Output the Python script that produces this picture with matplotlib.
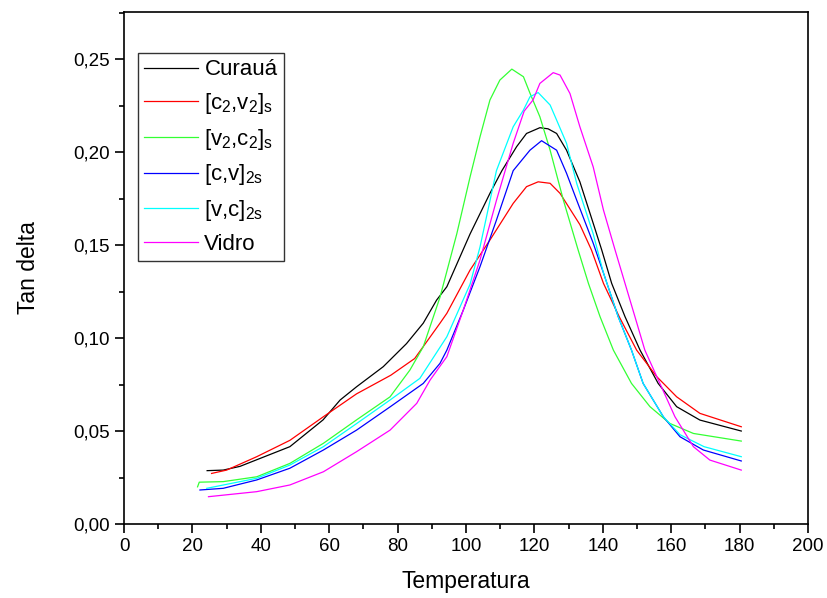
import matplotlib
matplotlib.use("Agg")
import matplotlib.pyplot as plt
from matplotlib.ticker import MultipleLocator, FuncFormatter

plt.rcParams["font.family"] = ["Liberation Sans", "DejaVu Sans"]
plt.rcParams["mathtext.fontset"] = "custom"
plt.rcParams["mathtext.rm"] = "Liberation Sans"
plt.rcParams["mathtext.it"] = "Liberation Sans"

# Tan delta vs temperature
t_curaua = [24.3, 29.0, 33.9, 48.5, 58.2, 63.2, 68.0, 75.8, 82.6, 87.5, 91.4, 94.4,
            101.2, 107.0, 110.5, 114.8, 117.7, 121.6, 124.0, 126.5, 129.4, 133.3,
            137.2, 139.7, 142.6, 146.5, 150.9, 156.2, 161.6, 168.4, 180.5]
v_curaua = [0.0287, 0.0290, 0.0310, 0.0416, 0.0560, 0.0667, 0.0738, 0.0846, 0.0970,
            0.1080, 0.1204, 0.1276, 0.1560, 0.1778, 0.1900, 0.2029, 0.2100, 0.2131,
            0.2125, 0.2100, 0.2010, 0.1840, 0.1617, 0.1473, 0.1294, 0.1115, 0.0935,
            0.0756, 0.0631, 0.0559, 0.0500]

t_c2v2 = [25.6, 30.0, 38.8, 48.5, 58.3, 68.0, 78.0, 85.0, 92.4, 94.4, 101.2, 107.0,
          113.8, 117.7, 121.1, 124.6, 127.5, 133.3, 136.7, 140.2, 144.8, 149.9,
          155.8, 161.6, 168.4, 180.5]
v_c2v2 = [0.0272, 0.0290, 0.0362, 0.0450, 0.0577, 0.0700, 0.0800, 0.0890, 0.1080,
          0.1133, 0.1366, 0.1527, 0.1724, 0.1814, 0.1840, 0.1832, 0.1778, 0.1610,
          0.1473, 0.1294, 0.1115, 0.0935, 0.0792, 0.0684, 0.0595, 0.0523]

t_v2c2 = [21.5, 22.0, 29.0, 38.8, 48.5, 58.3, 68.0, 77.8, 83.6, 87.5, 92.4, 97.3,
          101.2, 104.1, 107.0, 109.9, 113.4, 116.8, 118.7, 121.6, 124.6, 128.5,
          132.8, 135.8, 139.2, 143.1, 148.4, 153.8, 159.6, 166.5, 180.5]
v_v2c2 = [0.0200, 0.0225, 0.0228, 0.0254, 0.0326, 0.0434, 0.0560, 0.0684, 0.0828,
          0.0953, 0.1220, 0.1560, 0.1867, 0.2082, 0.2280, 0.2387, 0.2446, 0.2405,
          0.2317, 0.2190, 0.2010, 0.1740, 0.1473, 0.1294, 0.1115, 0.0935, 0.0756,
          0.0631, 0.0541, 0.0487, 0.0446]

t_cv2s = [22.2, 29.0, 38.8, 48.5, 58.3, 68.0, 77.8, 87.5, 92.4, 94.4, 99.2, 104.1,
          108.9, 113.8, 118.7, 122.1, 126.5, 129.4, 132.4, 137.2, 140.2, 144.5,
          148.4, 151.8, 157.7, 162.6, 169.4, 180.5]
v_cv2s = [0.0183, 0.0192, 0.0237, 0.0300, 0.0398, 0.0505, 0.0630, 0.0756, 0.0864,
          0.0935, 0.1150, 0.1384, 0.1634, 0.1900, 0.2010, 0.2061, 0.2010, 0.1886,
          0.1740, 0.1510, 0.1350, 0.1115, 0.0935, 0.0756, 0.0577, 0.0469, 0.0398,
          0.0339]

t_vc2s = [24.2, 38.8, 48.5, 58.3, 68.0, 77.8, 86.5, 94.4, 101.2, 104.1, 108.9, 113.8,
          116.8, 118.7, 121.1, 124.6, 126.5, 129.4, 132.4, 137.2, 140.2, 144.5, 148.4,
          151.8, 157.7, 162.6, 169.6, 180.5]
v_vc2s = [0.0192, 0.0246, 0.0317, 0.0416, 0.0540, 0.0667, 0.0783, 0.1007, 0.1290,
          0.1490, 0.1900, 0.2136, 0.2226, 0.2297, 0.2320, 0.2253, 0.2172, 0.2047,
          0.1830, 0.1560, 0.1350, 0.1115, 0.0935, 0.0756, 0.0577, 0.0480, 0.0416,
          0.0362]

t_vidro = [24.7, 38.8, 48.5, 58.3, 68.0, 77.8, 85.6, 89.5, 94.4, 99.2, 104.1, 108.9,
           113.8, 117.0, 119.6, 121.6, 125.5, 127.5, 130.4, 133.3, 137.2, 140.2,
           143.6, 146.5, 149.4, 152.3, 156.7, 161.1, 166.5, 171.3, 180.5]
v_vidro = [0.0147, 0.0174, 0.0210, 0.0281, 0.0389, 0.0505, 0.0649, 0.0774, 0.0900,
           0.1150, 0.1420, 0.1740, 0.2047, 0.2220, 0.2280, 0.2369, 0.2427, 0.2414,
           0.2315, 0.2136, 0.1920, 0.1688, 0.1473, 0.1294, 0.1115, 0.0935, 0.0756,
           0.0577, 0.0416, 0.0344, 0.0290]

series = [
    (t_curaua, v_curaua, "black", "Curauá"),
    (t_c2v2, v_c2v2, "red", r"$\mathregular{[c_2{,}v_2]_s}$"),
    (t_v2c2, v_v2c2, "#33ff33", r"$\mathregular{[v_2{,}c_2]_s}$"),
    (t_cv2s, v_cv2s, "blue", r"$\mathregular{[c{,}v]_{2s}}$"),
    (t_vc2s, v_vc2s, "cyan", r"$\mathregular{[v{,}c]_{2s}}$"),
    (t_vidro, v_vidro, "magenta", "Vidro"),
]

fig = plt.figure(figsize=(8.28, 5.98), dpi=100)
ax = fig.add_axes([0.1498, 0.1237, 0.8260, 0.8562])

for t, v, c, lab in series:
    ax.plot(t, v, color=c, lw=0.9, label=lab)

ax.set_xlim(0, 200)
ax.set_ylim(0, 0.2753)
ax.xaxis.set_major_locator(MultipleLocator(20))
ax.xaxis.set_minor_locator(MultipleLocator(10))
ax.yaxis.set_major_locator(MultipleLocator(0.05))
ax.yaxis.set_minor_locator(MultipleLocator(0.025))
ax.yaxis.set_major_formatter(FuncFormatter(lambda y, _: f"{y:.2f}".replace(".", ",")))
ax.tick_params(which="both", direction="out", top=False, right=False,
               width=1.2, labelsize=13.5)
ax.tick_params(which="major", length=6.5)
ax.tick_params(which="minor", length=3.5)
for s in ax.spines.values():
    s.set_linewidth(1.2)

ax.set_xlabel("Temperatura", fontsize=16.5, labelpad=11)
ax.set_ylabel("Tan delta", fontsize=16.5, labelpad=24)

leg = ax.legend(loc="upper left", bbox_to_anchor=(0.02, 0.9205), borderaxespad=0,
                fontsize=16, frameon=True, fancybox=False, handlelength=2.4,
                handletextpad=0.3, borderpad=0.3, labelspacing=0.48)
leg.get_frame().set_edgecolor("black")
leg.get_frame().set_linewidth(1.0)

fig.savefig("out.png", dpi=100)
